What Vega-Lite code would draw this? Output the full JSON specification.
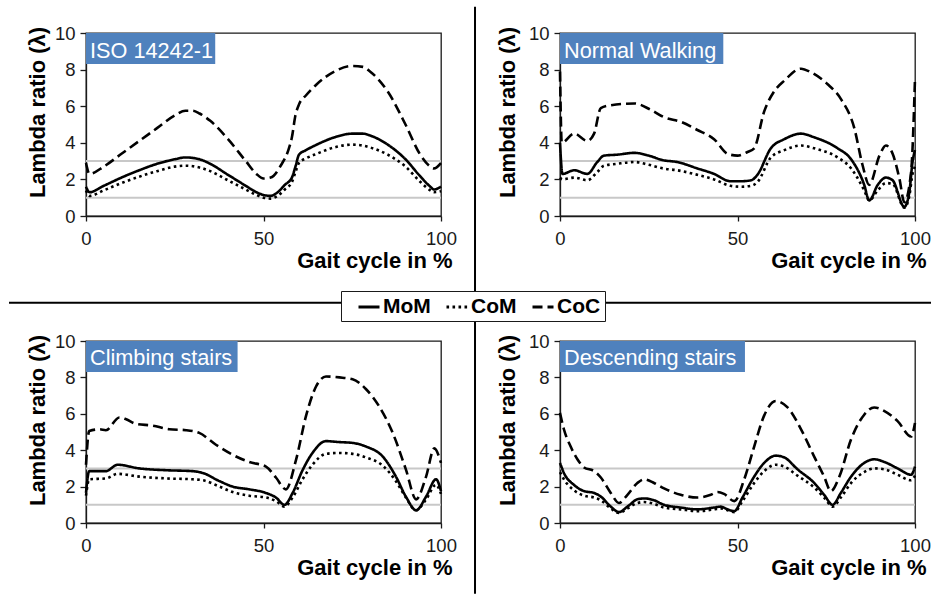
{
"$schema":"https://vega.github.io/schema/vega-lite/v6.json",
"background":"white",
"padding":{"left":7,"top":5,"right":0,"bottom":0},
"config":{
 "font":"Liberation Sans",
 "view":{"stroke":"#1a1a1a","strokeWidth":1.3},
 "axis":{"grid":false,"domainColor":"#1a1a1a","domainWidth":1.3,"tickColor":"#1a1a1a","tickWidth":1.3,"labelFont":"Liberation Sans","labelFontSize":18.5,"labelColor":"#1a1a1a","labelFlush":false,"labelOverlap":false,"labelBound":false,"titleFont":"Liberation Sans","titleFontSize":22,"titleFontWeight":"bold","titleColor":"black"},
 "axisX":{"tickSize":5,"labelPadding":8.5,"titleX":366,"titleY":51,"titleAlign":"right","titleBaseline":"alphabetic","titleAnchor":"end"},
 "axisY":{"tickSize":6,"labelPadding":5,"titleY":79,"titleAlign":"center","titleBaseline":"alphabetic","titleAngle":-90},
 "legend":{"symbolType":"stroke","symbolSize":441,"symbolStrokeWidth":3,"symbolStrokeColor":"black","labelFont":"Liberation Sans","labelFontSize":21,"labelFontWeight":"bold","labelColor":"black","labelOffset":2,"columnPadding":2,"padding":4,"symbolOffset":12,"strokeColor":"#1a1a1a","fillColor":"white"}
},
"datasets":{
 "iso":[
 {"s":"MoM","x":0,"y":1.6},{"s":"MoM","x":1,"y":1.3},{"s":"MoM","x":5,"y":1.65},{"s":"MoM","x":10,"y":2.1},{"s":"MoM","x":15,"y":2.5},{"s":"MoM","x":20,"y":2.85},{"s":"MoM","x":25,"y":3.1},{"s":"MoM","x":28,"y":3.2},{"s":"MoM","x":32,"y":3.1},{"s":"MoM","x":35,"y":2.85},{"s":"MoM","x":40,"y":2.25},{"s":"MoM","x":45,"y":1.65},{"s":"MoM","x":48,"y":1.3},{"s":"MoM","x":50,"y":1.15},{"s":"MoM","x":52,"y":1.1},{"s":"MoM","x":54,"y":1.3},{"s":"MoM","x":56,"y":1.7},{"s":"MoM","x":58,"y":2.1},{"s":"MoM","x":59,"y":2.7},{"s":"MoM","x":60,"y":3.35},{"s":"MoM","x":62,"y":3.6},{"s":"MoM","x":65,"y":3.9},{"s":"MoM","x":70,"y":4.3},{"s":"MoM","x":75,"y":4.5},{"s":"MoM","x":78,"y":4.5},{"s":"MoM","x":80,"y":4.4},{"s":"MoM","x":85,"y":3.9},{"s":"MoM","x":90,"y":3.1},{"s":"MoM","x":94,"y":2.2},{"s":"MoM","x":97,"y":1.6},{"s":"MoM","x":98,"y":1.45},{"s":"MoM","x":100,"y":1.6},
 {"s":"CoM","x":0,"y":1.4},{"s":"CoM","x":1,"y":1.1},{"s":"CoM","x":5,"y":1.4},{"s":"CoM","x":10,"y":1.8},{"s":"CoM","x":15,"y":2.15},{"s":"CoM","x":20,"y":2.45},{"s":"CoM","x":25,"y":2.7},{"s":"CoM","x":28,"y":2.75},{"s":"CoM","x":32,"y":2.65},{"s":"CoM","x":35,"y":2.45},{"s":"CoM","x":40,"y":1.95},{"s":"CoM","x":45,"y":1.45},{"s":"CoM","x":48,"y":1.15},{"s":"CoM","x":50,"y":1.0},{"s":"CoM","x":52,"y":0.95},{"s":"CoM","x":54,"y":1.1},{"s":"CoM","x":56,"y":1.45},{"s":"CoM","x":58,"y":1.85},{"s":"CoM","x":59,"y":2.4},{"s":"CoM","x":60,"y":2.9},{"s":"CoM","x":62,"y":3.15},{"s":"CoM","x":65,"y":3.4},{"s":"CoM","x":70,"y":3.75},{"s":"CoM","x":75,"y":3.9},{"s":"CoM","x":78,"y":3.85},{"s":"CoM","x":80,"y":3.75},{"s":"CoM","x":85,"y":3.35},{"s":"CoM","x":90,"y":2.7},{"s":"CoM","x":94,"y":1.9},{"s":"CoM","x":97,"y":1.4},{"s":"CoM","x":98,"y":1.3},{"s":"CoM","x":100,"y":1.35},
 {"s":"CoC","x":0,"y":2.9},{"s":"CoC","x":1,"y":2.3},{"s":"CoC","x":5,"y":2.7},{"s":"CoC","x":10,"y":3.4},{"s":"CoC","x":15,"y":4.1},{"s":"CoC","x":20,"y":4.8},{"s":"CoC","x":25,"y":5.5},{"s":"CoC","x":28,"y":5.75},{"s":"CoC","x":30,"y":5.75},{"s":"CoC","x":32,"y":5.6},{"s":"CoC","x":35,"y":5.2},{"s":"CoC","x":40,"y":4.2},{"s":"CoC","x":45,"y":3.0},{"s":"CoC","x":48,"y":2.3},{"s":"CoC","x":50,"y":2.05},{"s":"CoC","x":52,"y":2.1},{"s":"CoC","x":55,"y":2.8},{"s":"CoC","x":57,"y":3.6},{"s":"CoC","x":58,"y":4.3},{"s":"CoC","x":59,"y":5.5},{"s":"CoC","x":60,"y":6.1},{"s":"CoC","x":62,"y":6.6},{"s":"CoC","x":65,"y":7.2},{"s":"CoC","x":70,"y":7.9},{"s":"CoC","x":75,"y":8.2},{"s":"CoC","x":78,"y":8.15},{"s":"CoC","x":80,"y":7.9},{"s":"CoC","x":85,"y":6.8},{"s":"CoC","x":90,"y":5.0},{"s":"CoC","x":94,"y":3.4},{"s":"CoC","x":97,"y":2.7},{"s":"CoC","x":98,"y":2.6},{"s":"CoC","x":100,"y":2.9}
 ],
 "walk":[
 {"s":"MoM","x":0,"y":4.0},{"s":"MoM","x":0.7,"y":2.3},{"s":"MoM","x":4,"y":2.5},{"s":"MoM","x":7.7,"y":2.3},{"s":"MoM","x":10.5,"y":2.95},{"s":"MoM","x":12.4,"y":3.3},{"s":"MoM","x":16,"y":3.35},{"s":"MoM","x":21,"y":3.45},{"s":"MoM","x":25,"y":3.3},{"s":"MoM","x":29,"y":3.05},{"s":"MoM","x":33,"y":2.95},{"s":"MoM","x":38.7,"y":2.6},{"s":"MoM","x":43.4,"y":2.3},{"s":"MoM","x":48,"y":1.9},{"s":"MoM","x":51,"y":1.9},{"s":"MoM","x":53.8,"y":1.95},{"s":"MoM","x":55.6,"y":2.25},{"s":"MoM","x":59.4,"y":3.7},{"s":"MoM","x":63.2,"y":4.2},{"s":"MoM","x":67.9,"y":4.5},{"s":"MoM","x":71.6,"y":4.3},{"s":"MoM","x":78.2,"y":3.7},{"s":"MoM","x":82,"y":3.1},{"s":"MoM","x":85.7,"y":1.7},{"s":"MoM","x":87.1,"y":0.85},{"s":"MoM","x":89.5,"y":1.7},{"s":"MoM","x":91.8,"y":2.1},{"s":"MoM","x":93.7,"y":1.95},{"s":"MoM","x":97,"y":0.5},{"s":"MoM","x":98.4,"y":1.3},{"s":"MoM","x":99.3,"y":2.95},{"s":"MoM","x":100,"y":3.6},
 {"s":"CoM","x":0,"y":2.1},{"s":"CoM","x":0.7,"y":2.0},{"s":"CoM","x":4,"y":2.1},{"s":"CoM","x":7.7,"y":1.95},{"s":"CoM","x":10.5,"y":2.4},{"s":"CoM","x":12.4,"y":2.75},{"s":"CoM","x":16,"y":2.85},{"s":"CoM","x":21,"y":2.95},{"s":"CoM","x":25,"y":2.8},{"s":"CoM","x":29,"y":2.6},{"s":"CoM","x":33,"y":2.5},{"s":"CoM","x":38.7,"y":2.25},{"s":"CoM","x":43.4,"y":2.0},{"s":"CoM","x":48,"y":1.65},{"s":"CoM","x":51,"y":1.6},{"s":"CoM","x":53.8,"y":1.65},{"s":"CoM","x":55.6,"y":1.85},{"s":"CoM","x":59.4,"y":3.2},{"s":"CoM","x":63.2,"y":3.6},{"s":"CoM","x":67.9,"y":3.85},{"s":"CoM","x":71.6,"y":3.7},{"s":"CoM","x":78.2,"y":3.2},{"s":"CoM","x":82,"y":2.6},{"s":"CoM","x":85.7,"y":1.4},{"s":"CoM","x":87.1,"y":0.85},{"s":"CoM","x":89.5,"y":1.4},{"s":"CoM","x":91.8,"y":1.8},{"s":"CoM","x":93.7,"y":1.75},{"s":"CoM","x":97,"y":0.45},{"s":"CoM","x":98.4,"y":1.1},{"s":"CoM","x":99.3,"y":2.3},{"s":"CoM","x":100,"y":2.7},
 {"s":"CoC","x":0,"y":7.9},{"s":"CoC","x":0.5,"y":4.0},{"s":"CoC","x":4,"y":4.5},{"s":"CoC","x":7.7,"y":4.1},{"s":"CoC","x":9.6,"y":4.5},{"s":"CoC","x":11.5,"y":5.9},{"s":"CoC","x":14.3,"y":6.05},{"s":"CoC","x":20.9,"y":6.15},{"s":"CoC","x":25.6,"y":5.8},{"s":"CoC","x":29.3,"y":5.4},{"s":"CoC","x":34,"y":5.15},{"s":"CoC","x":38.7,"y":4.7},{"s":"CoC","x":43.4,"y":4.2},{"s":"CoC","x":47.2,"y":3.4},{"s":"CoC","x":50,"y":3.3},{"s":"CoC","x":52.8,"y":3.5},{"s":"CoC","x":54.7,"y":3.7},{"s":"CoC","x":57.5,"y":5.7},{"s":"CoC","x":60.3,"y":6.8},{"s":"CoC","x":63.2,"y":7.4},{"s":"CoC","x":67.9,"y":8.05},{"s":"CoC","x":70.7,"y":7.85},{"s":"CoC","x":75.4,"y":7.2},{"s":"CoC","x":79.1,"y":6.4},{"s":"CoC","x":82.9,"y":4.8},{"s":"CoC","x":85.2,"y":2.8},{"s":"CoC","x":87.1,"y":1.7},{"s":"CoC","x":90,"y":3.3},{"s":"CoC","x":91.8,"y":3.85},{"s":"CoC","x":93.7,"y":3.4},{"s":"CoC","x":95.6,"y":2.05},{"s":"CoC","x":97,"y":0.75},{"s":"CoC","x":98.9,"y":2.4},{"s":"CoC","x":100,"y":7.5}
 ],
 "climb":[
 {"s":"MoM","x":0,"y":1.65},{"s":"MoM","x":0.9,"y":2.85},{"s":"MoM","x":5.6,"y":2.85},{"s":"MoM","x":8.9,"y":3.2},{"s":"MoM","x":15,"y":3.0},{"s":"MoM","x":22.5,"y":2.9},{"s":"MoM","x":30,"y":2.85},{"s":"MoM","x":32.9,"y":2.75},{"s":"MoM","x":37.6,"y":2.3},{"s":"MoM","x":41.3,"y":2.0},{"s":"MoM","x":46,"y":1.85},{"s":"MoM","x":50.7,"y":1.65},{"s":"MoM","x":53.5,"y":1.4},{"s":"MoM","x":55.9,"y":1.0},{"s":"MoM","x":58.2,"y":1.65},{"s":"MoM","x":61,"y":2.9},{"s":"MoM","x":63.8,"y":3.85},{"s":"MoM","x":67.6,"y":4.5},{"s":"MoM","x":71,"y":4.45},{"s":"MoM","x":75.1,"y":4.4},{"s":"MoM","x":78.9,"y":4.2},{"s":"MoM","x":83.6,"y":3.65},{"s":"MoM","x":87.3,"y":2.55},{"s":"MoM","x":90.1,"y":1.45},{"s":"MoM","x":93,"y":0.7},{"s":"MoM","x":95.8,"y":1.45},{"s":"MoM","x":98.6,"y":2.4},{"s":"MoM","x":100,"y":1.75},
 {"s":"CoM","x":0,"y":1.5},{"s":"CoM","x":0.9,"y":2.4},{"s":"CoM","x":5.6,"y":2.45},{"s":"CoM","x":8.9,"y":2.7},{"s":"CoM","x":15,"y":2.55},{"s":"CoM","x":22.5,"y":2.45},{"s":"CoM","x":30,"y":2.4},{"s":"CoM","x":32.9,"y":2.35},{"s":"CoM","x":37.6,"y":2.0},{"s":"CoM","x":41.3,"y":1.7},{"s":"CoM","x":46,"y":1.5},{"s":"CoM","x":50.7,"y":1.4},{"s":"CoM","x":53.5,"y":1.2},{"s":"CoM","x":55.9,"y":0.9},{"s":"CoM","x":58.2,"y":1.4},{"s":"CoM","x":61,"y":2.4},{"s":"CoM","x":63.8,"y":3.2},{"s":"CoM","x":67.6,"y":3.8},{"s":"CoM","x":71,"y":3.85},{"s":"CoM","x":75.1,"y":3.8},{"s":"CoM","x":78.9,"y":3.6},{"s":"CoM","x":83.6,"y":3.15},{"s":"CoM","x":87.3,"y":2.3},{"s":"CoM","x":90.1,"y":1.4},{"s":"CoM","x":93,"y":0.7},{"s":"CoM","x":95.8,"y":1.3},{"s":"CoM","x":98.6,"y":2.1},{"s":"CoM","x":100,"y":1.6},
 {"s":"CoC","x":0,"y":3.2},{"s":"CoC","x":0.9,"y":5.05},{"s":"CoC","x":3.8,"y":5.15},{"s":"CoC","x":5.6,"y":5.1},{"s":"CoC","x":9.4,"y":5.8},{"s":"CoC","x":11.3,"y":5.7},{"s":"CoC","x":14,"y":5.45},{"s":"CoC","x":18.8,"y":5.35},{"s":"CoC","x":23.5,"y":5.15},{"s":"CoC","x":28.2,"y":5.1},{"s":"CoC","x":31.9,"y":4.95},{"s":"CoC","x":36.6,"y":4.3},{"s":"CoC","x":41.3,"y":3.75},{"s":"CoC","x":46,"y":3.35},{"s":"CoC","x":50.7,"y":3.1},{"s":"CoC","x":53.5,"y":2.5},{"s":"CoC","x":56.3,"y":1.85},{"s":"CoC","x":59.2,"y":3.5},{"s":"CoC","x":62,"y":5.9},{"s":"CoC","x":64.8,"y":7.5},{"s":"CoC","x":67.6,"y":8.05},{"s":"CoC","x":71.4,"y":8.0},{"s":"CoC","x":75.1,"y":7.9},{"s":"CoC","x":78.9,"y":7.35},{"s":"CoC","x":82.6,"y":6.4},{"s":"CoC","x":86.4,"y":4.95},{"s":"CoC","x":90.1,"y":2.95},{"s":"CoC","x":93,"y":1.3},{"s":"CoC","x":95.8,"y":2.55},{"s":"CoC","x":98.1,"y":4.1},{"s":"CoC","x":100,"y":3.3}
 ],
 "desc":[
 {"s":"MoM","x":0,"y":3.3},{"s":"MoM","x":1.1,"y":2.75},{"s":"MoM","x":3.9,"y":2.1},{"s":"MoM","x":6.8,"y":1.75},{"s":"MoM","x":9.6,"y":1.65},{"s":"MoM","x":11.5,"y":1.45},{"s":"MoM","x":14.3,"y":0.9},{"s":"MoM","x":16.6,"y":0.6},{"s":"MoM","x":19,"y":0.9},{"s":"MoM","x":21.8,"y":1.3},{"s":"MoM","x":23.7,"y":1.35},{"s":"MoM","x":26.5,"y":1.25},{"s":"MoM","x":29.3,"y":1.0},{"s":"MoM","x":34,"y":0.85},{"s":"MoM","x":38.7,"y":0.75},{"s":"MoM","x":43.4,"y":0.85},{"s":"MoM","x":45.3,"y":0.9},{"s":"MoM","x":47.2,"y":0.75},{"s":"MoM","x":49.1,"y":0.65},{"s":"MoM","x":51.4,"y":1.4},{"s":"MoM","x":54.7,"y":2.55},{"s":"MoM","x":57.5,"y":3.3},{"s":"MoM","x":60.8,"y":3.7},{"s":"MoM","x":63.2,"y":3.6},{"s":"MoM","x":66.9,"y":2.95},{"s":"MoM","x":71.6,"y":2.2},{"s":"MoM","x":74.4,"y":1.55},{"s":"MoM","x":76.8,"y":1.0},{"s":"MoM","x":79.1,"y":1.65},{"s":"MoM","x":82,"y":2.55},{"s":"MoM","x":85.7,"y":3.3},{"s":"MoM","x":88.5,"y":3.5},{"s":"MoM","x":91.4,"y":3.35},{"s":"MoM","x":95.1,"y":3.0},{"s":"MoM","x":98.9,"y":2.65},{"s":"MoM","x":100,"y":3.1},
 {"s":"CoM","x":0,"y":2.8},{"s":"CoM","x":1.1,"y":2.4},{"s":"CoM","x":3.9,"y":1.8},{"s":"CoM","x":6.8,"y":1.5},{"s":"CoM","x":9.6,"y":1.4},{"s":"CoM","x":11.5,"y":1.25},{"s":"CoM","x":14.3,"y":0.8},{"s":"CoM","x":16.6,"y":0.55},{"s":"CoM","x":19,"y":0.8},{"s":"CoM","x":21.8,"y":1.1},{"s":"CoM","x":23.7,"y":1.15},{"s":"CoM","x":26.5,"y":1.05},{"s":"CoM","x":29.3,"y":0.85},{"s":"CoM","x":34,"y":0.75},{"s":"CoM","x":38.7,"y":0.65},{"s":"CoM","x":43.4,"y":0.75},{"s":"CoM","x":45.3,"y":0.8},{"s":"CoM","x":47.2,"y":0.7},{"s":"CoM","x":49.1,"y":0.6},{"s":"CoM","x":51.4,"y":1.2},{"s":"CoM","x":54.7,"y":2.2},{"s":"CoM","x":57.5,"y":2.85},{"s":"CoM","x":60.8,"y":3.2},{"s":"CoM","x":63.2,"y":3.1},{"s":"CoM","x":66.9,"y":2.6},{"s":"CoM","x":71.6,"y":1.95},{"s":"CoM","x":74.4,"y":1.4},{"s":"CoM","x":76.8,"y":0.9},{"s":"CoM","x":79.1,"y":1.4},{"s":"CoM","x":82,"y":2.2},{"s":"CoM","x":85.7,"y":2.8},{"s":"CoM","x":88.5,"y":3.0},{"s":"CoM","x":91.4,"y":2.95},{"s":"CoM","x":95.1,"y":2.65},{"s":"CoM","x":98.9,"y":2.35},{"s":"CoM","x":100,"y":2.6},
 {"s":"CoC","x":0,"y":6.05},{"s":"CoC","x":1.1,"y":5.15},{"s":"CoC","x":3,"y":4.2},{"s":"CoC","x":4.9,"y":3.5},{"s":"CoC","x":6.8,"y":3.05},{"s":"CoC","x":9.6,"y":2.85},{"s":"CoC","x":11.5,"y":2.5},{"s":"CoC","x":14.3,"y":1.65},{"s":"CoC","x":16.6,"y":1.1},{"s":"CoC","x":19,"y":1.55},{"s":"CoC","x":21.8,"y":2.2},{"s":"CoC","x":23.7,"y":2.4},{"s":"CoC","x":26.5,"y":2.2},{"s":"CoC","x":29.3,"y":1.9},{"s":"CoC","x":34,"y":1.55},{"s":"CoC","x":38.7,"y":1.4},{"s":"CoC","x":42.5,"y":1.55},{"s":"CoC","x":44.4,"y":1.7},{"s":"CoC","x":46.2,"y":1.6},{"s":"CoC","x":49.1,"y":1.2},{"s":"CoC","x":51.9,"y":2.4},{"s":"CoC","x":54.7,"y":4.2},{"s":"CoC","x":57.5,"y":5.9},{"s":"CoC","x":60.8,"y":6.7},{"s":"CoC","x":64.1,"y":6.35},{"s":"CoC","x":67.9,"y":5.15},{"s":"CoC","x":71.6,"y":3.65},{"s":"CoC","x":74.4,"y":2.55},{"s":"CoC","x":76.3,"y":1.75},{"s":"CoC","x":78.7,"y":2.55},{"s":"CoC","x":82,"y":4.6},{"s":"CoC","x":85.7,"y":5.95},{"s":"CoC","x":88.5,"y":6.35},{"s":"CoC","x":91.4,"y":6.15},{"s":"CoC","x":95.1,"y":5.6},{"s":"CoC","x":98.9,"y":4.75},{"s":"CoC","x":100,"y":5.5}
 ]
},
"bounds":"flush",
"columns":2,
"spacing":{"row":125,"column":119},
"concat":[
  {"width":355,"height":183,"layer":[
   {"data":{"values":[{}]},"mark":{"type":"rule","color":"black","strokeWidth":2},"encoding":{"x":{"datum":-21.69,"type":"quantitative","scale":{"domain":[0,100],"nice":false},"axis":{"values":[0,50,100],"title":"Gait cycle in %"}},"x2":{"datum":238.03},"y":{"datum":-4.738,"type":"quantitative","scale":{"domain":[0,10],"nice":false},"axis":{"values":[0,2,4,6,8,10],"title":"Lambda ratio (λ)","titleX":-42}}}},
   {"data":{"values":[{}]},"mark":{"type":"rule","color":"black","strokeWidth":2},"encoding":{"x":{"datum":109.58,"type":"quantitative","scale":{"domain":[0,100],"nice":false},"axis":{"values":[0,50,100],"title":"Gait cycle in %"}},"y":{"datum":11.437,"type":"quantitative","scale":{"domain":[0,10],"nice":false},"axis":{"values":[0,2,4,6,8,10],"title":"Lambda ratio (λ)","titleX":-42}},"y2":{"datum":-20.639}}},
   {"data":{"values":[{"ref":1},{"ref":3}]},"mark":{"type":"rule","color":"#c8c8c8","strokeWidth":2},"encoding":{"y":{"field":"ref","type":"quantitative","scale":{"domain":[0,10],"nice":false},"axis":{"values":[0,2,4,6,8,10],"title":"Lambda ratio (λ)","titleX":-42}}}},
   {"data":{"name":"iso"},"mark":{"type":"line","interpolate":"monotone","color":"black","strokeWidth":2.6},"encoding":{"x":{"field":"x","type":"quantitative","scale":{"domain":[0,100],"nice":false},"axis":{"values":[0,50,100],"title":"Gait cycle in %"}},"y":{"field":"y","type":"quantitative","scale":{"domain":[0,10],"nice":false},"axis":{"values":[0,2,4,6,8,10],"title":"Lambda ratio (λ)","titleX":-42}},"strokeDash":{"field":"s","type":"nominal","scale":{"domain":["MoM","CoM","CoC"],"range":[[1,0],[2.6,3.4],[10,5]]},"legend":{"orient":"none","legendX":255,"legendY":258,"direction":"horizontal","title":null}}}},
   {"data":{"values":[{"label":"ISO 14242-1"}]},"mark":{"type":"rect","color":"#4f81bd"},"encoding":{"x":{"datum":0,"type":"quantitative","scale":{"domain":[0,100],"nice":false},"axis":{"values":[0,50,100],"title":"Gait cycle in %"}},"x2":{"datum":36.4},"y":{"datum":10,"type":"quantitative","scale":{"domain":[0,10],"nice":false},"axis":{"values":[0,2,4,6,8,10],"title":"Lambda ratio (λ)","titleX":-42}},"y2":{"datum":8.3}}},
   {"data":{"values":[{"label":"ISO 14242-1"}]},"mark":{"type":"text","color":"white","align":"left","baseline":"alphabetic","dx":4,"dy":25,"fontSize":21.7,"font":"Liberation Sans"},"encoding":{"x":{"datum":0,"type":"quantitative","scale":{"domain":[0,100],"nice":false},"axis":{"values":[0,50,100],"title":"Gait cycle in %"}},"y":{"datum":10,"type":"quantitative","scale":{"domain":[0,10],"nice":false},"axis":{"values":[0,2,4,6,8,10],"title":"Lambda ratio (λ)","titleX":-42}},"text":{"field":"label"}}}
  ]},
  {"width":355,"height":183,"layer":[
   {"data":{"values":[{"ref":1},{"ref":3}]},"mark":{"type":"rule","color":"#c8c8c8","strokeWidth":2},"encoding":{"y":{"field":"ref","type":"quantitative","scale":{"domain":[0,10],"nice":false},"axis":{"values":[0,2,4,6,8,10],"title":"Lambda ratio (λ)","titleX":-46}}}},
   {"data":{"name":"walk"},"mark":{"type":"line","interpolate":"monotone","color":"black","strokeWidth":2.6},"encoding":{"x":{"field":"x","type":"quantitative","scale":{"domain":[0,100],"nice":false},"axis":{"values":[0,50,100],"title":"Gait cycle in %"}},"y":{"field":"y","type":"quantitative","scale":{"domain":[0,10],"nice":false},"axis":{"values":[0,2,4,6,8,10],"title":"Lambda ratio (λ)","titleX":-46}},"strokeDash":{"field":"s","type":"nominal","scale":{"domain":["MoM","CoM","CoC"],"range":[[1,0],[2.6,3.4],[10,5]]},"legend":{"orient":"none","legendX":255,"legendY":258,"direction":"horizontal","title":null}}}},
   {"data":{"values":[{"label":"Normal Walking"}]},"mark":{"type":"rect","color":"#4f81bd"},"encoding":{"x":{"datum":0,"type":"quantitative","scale":{"domain":[0,100],"nice":false},"axis":{"values":[0,50,100],"title":"Gait cycle in %"}},"x2":{"datum":46.0},"y":{"datum":10,"type":"quantitative","scale":{"domain":[0,10],"nice":false},"axis":{"values":[0,2,4,6,8,10],"title":"Lambda ratio (λ)","titleX":-46}},"y2":{"datum":8.3}}},
   {"data":{"values":[{"label":"Normal Walking"}]},"mark":{"type":"text","color":"white","align":"left","baseline":"alphabetic","dx":4,"dy":25,"fontSize":21.7,"font":"Liberation Sans"},"encoding":{"x":{"datum":0,"type":"quantitative","scale":{"domain":[0,100],"nice":false},"axis":{"values":[0,50,100],"title":"Gait cycle in %"}},"y":{"datum":10,"type":"quantitative","scale":{"domain":[0,10],"nice":false},"axis":{"values":[0,2,4,6,8,10],"title":"Lambda ratio (λ)","titleX":-46}},"text":{"field":"label"}}}
  ]},
  {"width":355,"height":182,"layer":[
   {"data":{"values":[{"ref":1},{"ref":3}]},"mark":{"type":"rule","color":"#c8c8c8","strokeWidth":2},"encoding":{"y":{"field":"ref","type":"quantitative","scale":{"domain":[0,10],"nice":false},"axis":{"values":[0,2,4,6,8,10],"title":"Lambda ratio (λ)","titleX":-42}}}},
   {"data":{"name":"climb"},"mark":{"type":"line","interpolate":"monotone","color":"black","strokeWidth":2.6},"encoding":{"x":{"field":"x","type":"quantitative","scale":{"domain":[0,100],"nice":false},"axis":{"values":[0,50,100],"title":"Gait cycle in %"}},"y":{"field":"y","type":"quantitative","scale":{"domain":[0,10],"nice":false},"axis":{"values":[0,2,4,6,8,10],"title":"Lambda ratio (λ)","titleX":-42}},"strokeDash":{"field":"s","type":"nominal","scale":{"domain":["MoM","CoM","CoC"],"range":[[1,0],[2.6,3.4],[10,5]]},"legend":{"orient":"none","legendX":255,"legendY":258,"direction":"horizontal","title":null}}}},
   {"data":{"values":[{"label":"Climbing stairs"}]},"mark":{"type":"rect","color":"#4f81bd"},"encoding":{"x":{"datum":0,"type":"quantitative","scale":{"domain":[0,100],"nice":false},"axis":{"values":[0,50,100],"title":"Gait cycle in %"}},"x2":{"datum":42.7},"y":{"datum":10,"type":"quantitative","scale":{"domain":[0,10],"nice":false},"axis":{"values":[0,2,4,6,8,10],"title":"Lambda ratio (λ)","titleX":-42}},"y2":{"datum":8.3}}},
   {"data":{"values":[{"label":"Climbing stairs"}]},"mark":{"type":"text","color":"white","align":"left","baseline":"alphabetic","dx":4,"dy":24,"fontSize":21.7,"font":"Liberation Sans"},"encoding":{"x":{"datum":0,"type":"quantitative","scale":{"domain":[0,100],"nice":false},"axis":{"values":[0,50,100],"title":"Gait cycle in %"}},"y":{"datum":10,"type":"quantitative","scale":{"domain":[0,10],"nice":false},"axis":{"values":[0,2,4,6,8,10],"title":"Lambda ratio (λ)","titleX":-42}},"text":{"field":"label"}}}
  ]},
  {"width":355,"height":182,"layer":[
   {"data":{"values":[{"ref":1},{"ref":3}]},"mark":{"type":"rule","color":"#c8c8c8","strokeWidth":2},"encoding":{"y":{"field":"ref","type":"quantitative","scale":{"domain":[0,10],"nice":false},"axis":{"values":[0,2,4,6,8,10],"title":"Lambda ratio (λ)","titleX":-46}}}},
   {"data":{"name":"desc"},"mark":{"type":"line","interpolate":"monotone","color":"black","strokeWidth":2.6},"encoding":{"x":{"field":"x","type":"quantitative","scale":{"domain":[0,100],"nice":false},"axis":{"values":[0,50,100],"title":"Gait cycle in %"}},"y":{"field":"y","type":"quantitative","scale":{"domain":[0,10],"nice":false},"axis":{"values":[0,2,4,6,8,10],"title":"Lambda ratio (λ)","titleX":-46}},"strokeDash":{"field":"s","type":"nominal","scale":{"domain":["MoM","CoM","CoC"],"range":[[1,0],[2.6,3.4],[10,5]]},"legend":{"orient":"none","legendX":255,"legendY":258,"direction":"horizontal","title":null}}}},
   {"data":{"values":[{"label":"Descending stairs"}]},"mark":{"type":"rect","color":"#4f81bd"},"encoding":{"x":{"datum":0,"type":"quantitative","scale":{"domain":[0,100],"nice":false},"axis":{"values":[0,50,100],"title":"Gait cycle in %"}},"x2":{"datum":52.1},"y":{"datum":10,"type":"quantitative","scale":{"domain":[0,10],"nice":false},"axis":{"values":[0,2,4,6,8,10],"title":"Lambda ratio (λ)","titleX":-46}},"y2":{"datum":8.3}}},
   {"data":{"values":[{"label":"Descending stairs"}]},"mark":{"type":"text","color":"white","align":"left","baseline":"alphabetic","dx":4,"dy":24,"fontSize":21.7,"font":"Liberation Sans"},"encoding":{"x":{"datum":0,"type":"quantitative","scale":{"domain":[0,100],"nice":false},"axis":{"values":[0,50,100],"title":"Gait cycle in %"}},"y":{"datum":10,"type":"quantitative","scale":{"domain":[0,10],"nice":false},"axis":{"values":[0,2,4,6,8,10],"title":"Lambda ratio (λ)","titleX":-46}},"text":{"field":"label"}}}
  ]}
]
}
